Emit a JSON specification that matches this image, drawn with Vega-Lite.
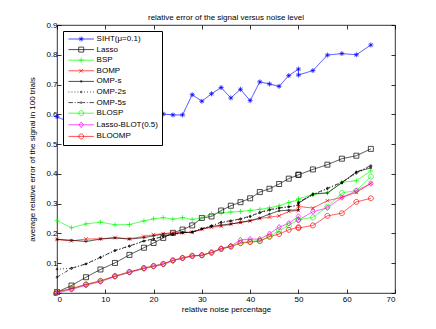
{
  "$schema": "https://vega.github.io/schema/vega-lite/v6.json",
  "width": 338,
  "height": 268,
  "autosize": "none",
  "padding": {"left": 57, "top": 25, "right": 41, "bottom": 36},
  "title": {"text": "relative error of the signal versus noise level", "fontSize": 8, "fontWeight": "normal", "font": "Liberation Sans", "color": "black", "offset": -1},
  "data": {"values": [
    {"i":0,"x":0,"SIHT":0.592,"Lasso":0.003,"BSP":0.243,"BOMP":0.180,"OMPs":0.180,"OMP2s":0.080,"OMP5s":0.053,"BLOSP":0.003,"LBLOT":0.000,"BLOOMP":0.004},
    {"i":1,"x":3,"SIHT":0.570,"Lasso":0.025,"BSP":0.219,"BOMP":0.175,"OMPs":0.177,"OMP2s":0.083,"OMP5s":0.083,"BLOSP":0.014,"LBLOT":0.012,"BLOOMP":0.015},
    {"i":2,"x":6,"SIHT":0.575,"Lasso":0.053,"BSP":0.232,"BOMP":0.181,"OMPs":0.173,"OMP2s":0.097,"OMP5s":0.098,"BLOSP":0.028,"LBLOT":0.026,"BLOOMP":0.029},
    {"i":3,"x":9,"SIHT":0.582,"Lasso":0.079,"BSP":0.238,"BOMP":0.182,"OMPs":0.181,"OMP2s":0.119,"OMP5s":0.120,"BLOSP":0.040,"LBLOT":0.038,"BLOOMP":0.041},
    {"i":4,"x":12,"SIHT":0.588,"Lasso":0.101,"BSP":0.229,"BOMP":0.186,"OMPs":0.185,"OMP2s":0.142,"OMP5s":0.143,"BLOSP":0.056,"LBLOT":0.055,"BLOOMP":0.057},
    {"i":5,"x":15,"SIHT":0.592,"Lasso":0.128,"BSP":0.230,"BOMP":0.182,"OMPs":0.181,"OMP2s":0.157,"OMP5s":0.158,"BLOSP":0.070,"LBLOT":0.069,"BLOOMP":0.071},
    {"i":6,"x":18,"SIHT":0.595,"Lasso":0.152,"BSP":0.242,"BOMP":0.190,"OMPs":0.186,"OMP2s":0.174,"OMP5s":0.175,"BLOSP":0.083,"LBLOT":0.082,"BLOOMP":0.084},
    {"i":7,"x":20,"SIHT":0.600,"Lasso":0.168,"BSP":0.249,"BOMP":0.196,"OMPs":0.192,"OMP2s":0.181,"OMP5s":0.182,"BLOSP":0.090,"LBLOT":0.089,"BLOOMP":0.091},
    {"i":8,"x":22,"SIHT":0.601,"Lasso":0.185,"BSP":0.253,"BOMP":0.199,"OMPs":0.198,"OMP2s":0.189,"OMP5s":0.190,"BLOSP":0.097,"LBLOT":0.096,"BLOOMP":0.098},
    {"i":9,"x":24,"SIHT":0.598,"Lasso":0.202,"BSP":0.248,"BOMP":0.203,"OMPs":0.198,"OMP2s":0.196,"OMP5s":0.197,"BLOSP":0.109,"LBLOT":0.108,"BLOOMP":0.110},
    {"i":10,"x":26,"SIHT":0.598,"Lasso":0.213,"BSP":0.253,"BOMP":0.202,"OMPs":0.203,"OMP2s":0.202,"OMP5s":0.203,"BLOSP":0.117,"LBLOT":0.117,"BLOOMP":0.118},
    {"i":11,"x":28,"SIHT":0.666,"Lasso":0.227,"BSP":0.247,"BOMP":0.204,"OMPs":0.204,"OMP2s":0.205,"OMP5s":0.205,"BLOSP":0.124,"LBLOT":0.124,"BLOOMP":0.125},
    {"i":12,"x":30,"SIHT":0.644,"Lasso":0.252,"BSP":0.253,"BOMP":0.214,"OMPs":0.215,"OMP2s":0.215,"OMP5s":0.216,"BLOSP":0.126,"LBLOT":0.127,"BLOOMP":0.127},
    {"i":13,"x":32,"SIHT":0.669,"Lasso":0.257,"BSP":0.266,"BOMP":0.221,"OMPs":0.223,"OMP2s":0.225,"OMP5s":0.226,"BLOSP":0.135,"LBLOT":0.136,"BLOOMP":0.136},
    {"i":14,"x":34,"SIHT":0.690,"Lasso":0.277,"BSP":0.268,"BOMP":0.224,"OMPs":0.228,"OMP2s":0.236,"OMP5s":0.238,"BLOSP":0.148,"LBLOT":0.150,"BLOOMP":0.148},
    {"i":15,"x":36,"SIHT":0.655,"Lasso":0.293,"BSP":0.272,"BOMP":0.231,"OMPs":0.232,"OMP2s":0.241,"OMP5s":0.243,"BLOSP":0.156,"LBLOT":0.158,"BLOOMP":0.156},
    {"i":16,"x":38,"SIHT":0.684,"Lasso":0.305,"BSP":0.274,"BOMP":0.237,"OMPs":0.237,"OMP2s":0.248,"OMP5s":0.249,"BLOSP":0.169,"LBLOT":0.178,"BLOOMP":0.167},
    {"i":17,"x":40,"SIHT":0.646,"Lasso":0.318,"BSP":0.277,"BOMP":0.242,"OMPs":0.243,"OMP2s":0.256,"OMP5s":0.258,"BLOSP":0.173,"LBLOT":0.181,"BLOOMP":0.171},
    {"i":18,"x":42,"SIHT":0.709,"Lasso":0.339,"BSP":0.281,"BOMP":0.250,"OMPs":0.252,"OMP2s":0.269,"OMP5s":0.271,"BLOSP":0.176,"LBLOT":0.181,"BLOOMP":0.174},
    {"i":19,"x":44,"SIHT":0.702,"Lasso":0.350,"BSP":0.286,"BOMP":0.255,"OMPs":0.265,"OMP2s":0.278,"OMP5s":0.280,"BLOSP":0.190,"LBLOT":0.199,"BLOOMP":0.189},
    {"i":20,"x":46,"SIHT":0.694,"Lasso":0.366,"BSP":0.293,"BOMP":0.259,"OMPs":0.276,"OMP2s":0.284,"OMP5s":0.286,"BLOSP":0.210,"LBLOT":0.221,"BLOOMP":0.198},
    {"i":21,"x":48,"SIHT":0.730,"Lasso":0.384,"BSP":0.304,"BOMP":0.274,"OMPs":0.278,"OMP2s":0.289,"OMP5s":0.290,"BLOSP":0.227,"LBLOT":0.234,"BLOOMP":0.212},
    {"i":22,"x":50,"SIHT":0.752,"Lasso":0.397,"BSP":0.313,"BOMP":0.277,"OMPs":0.279,"OMP2s":0.294,"OMP5s":0.295,"BLOSP":0.246,"LBLOT":0.257,"BLOOMP":0.221},
    {"i":23,"x":50,"SIHT":0.732,"Lasso":0.397,"BSP":0.316,"BOMP":0.291,"OMPs":0.301,"OMP2s":0.303,"OMP5s":0.305,"BLOSP":0.246,"LBLOT":0.245,"BLOOMP":0.218},
    {"i":24,"x":53,"SIHT":0.747,"Lasso":0.415,"BSP":0.331,"BOMP":0.285,"OMPs":0.333,"OMP2s":0.329,"OMP5s":0.331,"BLOSP":0.254,"LBLOT":0.273,"BLOOMP":0.227},
    {"i":25,"x":56,"SIHT":0.799,"Lasso":0.431,"BSP":0.336,"BOMP":0.310,"OMPs":0.336,"OMP2s":0.350,"OMP5s":0.352,"BLOSP":0.290,"LBLOT":0.286,"BLOOMP":0.259},
    {"i":26,"x":59,"SIHT":0.804,"Lasso":0.451,"BSP":0.372,"BOMP":0.321,"OMPs":0.370,"OMP2s":0.370,"OMP5s":0.372,"BLOSP":0.336,"LBLOT":0.321,"BLOOMP":0.268},
    {"i":27,"x":62,"SIHT":0.800,"Lasso":0.461,"BSP":0.377,"BOMP":0.338,"OMPs":0.407,"OMP2s":0.402,"OMP5s":0.405,"BLOSP":0.344,"LBLOT":0.343,"BLOOMP":0.306},
    {"i":28,"x":65,"SIHT":0.833,"Lasso":0.484,"BSP":0.410,"BOMP":0.368,"OMPs":0.420,"OMP2s":0.425,"OMP5s":0.428,"BLOSP":0.391,"LBLOT":0.368,"BLOOMP":0.318}
  ]},
  "transform": [{"fold": ["SIHT","Lasso","BSP","BOMP","OMPs","OMP2s","OMP5s","BLOSP","LBLOT","BLOOMP"], "as": ["s","v"]}],
  "layer": [
    {
      "mark": {"type": "line", "strokeWidth": 0.7},
      "encoding": {
        "x": {"field": "x", "type": "quantitative", "scale": {"domain": [0,70], "nice": false},
              "axis": {"values": [0,10,20,30,40,50,60,70], "title": "relative noise percentage", "labelPadding": 6, "titlePadding": 2}},
        "y": {"field": "v", "type": "quantitative", "scale": {"domain": [0,0.9], "nice": false},
              "axis": {"values": [0,0.1,0.2,0.3,0.4,0.5,0.6,0.7,0.8,0.9], "format": "~g", "title": "average relative error of the signal in 100 trials", "labelPadding": 4, "titlePadding": 9}},
        "stroke": {"field": "s", "type": "nominal", "legend": null,
                   "scale": {"domain": ["BLOOMP","LBLOT","BLOSP","OMP5s","OMP2s","OMPs","BOMP","BSP","Lasso","SIHT"],
                             "range": ["#ff0000","#ff00ff","#00ff00","#000000","#000000","#000000","#ff0000","#00ff00","#000000","#0000ff"]}},
        "strokeDash": {"field": "s", "type": "nominal", "legend": null,
                  "scale": {"domain": ["BLOOMP","LBLOT","BLOSP","OMP5s","OMP2s","OMPs","BOMP","BSP","Lasso","SIHT"],
                            "range": [[1,0],[1,0],[1,0],[4,2,1,2],[1,2],[1,0],[1,0],[1,0],[1,0],[1,0]]}},
        "order": {"field": "i", "type": "quantitative"}
      }
    },
    {
      "mark": {"type": "point", "filled": false, "size": 25, "strokeWidth": 0.7, "opacity": 1},
      "encoding": {
        "x": {"field": "x", "type": "quantitative", "axis": {"orient": "top", "values": [0,10,20,30,40,50,60,70], "labels": false, "title": null}},
        "y": {"field": "v", "type": "quantitative", "axis": {"orient": "right", "values": [0,0.1,0.2,0.3,0.4,0.5,0.6,0.7,0.8,0.9], "labels": false, "title": null}},
        "shape": {"field": "s", "type": "nominal", "legend": null,
                  "scale": {"domain": ["BLOOMP","LBLOT","BLOSP","OMP5s","OMP2s","OMPs","BOMP","BSP","Lasso","SIHT"],
                            "range": [
                              "M1,0A1,1,0,1,1,-1,0A1,1,0,1,1,1,0Z",
                              "M0,-1.1L0.9,0L0,1.1L-0.9,0Z",
                              "M1,0A1,1,0,1,1,-1,0A1,1,0,1,1,1,0Z",
                              "M0.35,0A0.35,0.35,0,1,1,-0.35,0A0.35,0.35,0,1,1,0.35,0Z",
                              "M0.35,0A0.35,0.35,0,1,1,-0.35,0A0.35,0.35,0,1,1,0.35,0Z",
                              "M0.35,0A0.35,0.35,0,1,1,-0.35,0A0.35,0.35,0,1,1,0.35,0Z",
                              "M-0.75,-0.75L0.75,0.75M-0.75,0.75L0.75,-0.75",
                              "M0,-1V1M-1,0H1",
                              "M-1,-1H1V1H-1Z",
                              "M0,-1V1M-1,0H1M-0.7,-0.7L0.7,0.7M-0.7,0.7L0.7,-0.7"]}},
        "color": {"field": "s", "type": "nominal",
                  "scale": {"domain": ["SIHT","Lasso","BSP","BOMP","OMPs","OMP2s","OMP5s","BLOSP","LBLOT","BLOOMP"],
                            "range": ["#0000ff","#000000","#00ff00","#ff0000","#000000","#000000","#000000","#00ff00","#ff00ff","#ff0000"]},
                  "legend": {"orient": "top-left", "offset": 6, "title": null, "padding": 4,
                             "strokeColor": "black", "fillColor": "white", "cornerRadius": 0,
                             "symbolSize": 25, "symbolStrokeWidth": 0.7, "symbolOffset": 10.2, "labelOffset": 11.4,
                             "rowPadding": 2.6, "labelFontSize": 8, "labelFont": "Liberation Sans", "labelColor": "black",
                             "labelExpr": "{'SIHT':'SIHT(μ=0.1)','Lasso':'Lasso','BSP':'BSP','BOMP':'BOMP','OMPs':'OMP-s','OMP2s':'OMP-2s','OMP5s':'OMP-5s','BLOSP':'BLOSP','LBLOT':'Lasso-BLOT(0.5)','BLOOMP':'BLOOMP'}[datum.label]",
                             "symbolType": {"expr": "{'SIHT':'M-5.1,0H5.1M0,-1V1M-1,0H1M-0.7,-0.7L0.7,0.7M-0.7,0.7L0.7,-0.7','Lasso':'M-5.1,0H5.1M-1,-1H1V1H-1Z','BSP':'M-5.1,0H5.1M0,-1V1M-1,0H1','BOMP':'M-5.1,0H5.1M-0.75,-0.75L0.75,0.75M-0.75,0.75L0.75,-0.75','OMPs':'M-5.1,0H5.1M0.35,0A0.35,0.35,0,1,1,-0.35,0A0.35,0.35,0,1,1,0.35,0Z','OMP2s':'M-5.1,0h0.4M-3.9,0h0.4M-2.7,0h0.4M-1.5,0h0.4M1.1,0h0.4M2.3,0h0.4M3.5,0h0.4M4.7,0h0.4M0.35,0A0.35,0.35,0,1,1,-0.35,0A0.35,0.35,0,1,1,0.35,0Z','OMP5s':'M-5.1,0H-3.3M-2.6,0h0.4M-1.6,0H-0.5M0.5,0H1.6M2.2,0h0.4M3.3,0H5.1M0.35,0A0.35,0.35,0,1,1,-0.35,0A0.35,0.35,0,1,1,0.35,0Z','BLOSP':'M-5.1,0H5.1M1,0A1,1,0,1,1,-1,0A1,1,0,1,1,1,0Z','LBLOT':'M-5.1,0H5.1M0,-1.1L0.9,0L0,1.1L-0.9,0Z','BLOOMP':'M-5.1,0H5.1M1,0A1,1,0,1,1,-1,0A1,1,0,1,1,1,0Z'}[datum.value]"}}}
      }
    }
  ],
  "resolve": {"axis": {"x": "independent", "y": "independent"}},
  "config": {
    "view": {"stroke": "black", "strokeWidth": 0.8},
    "axis": {"domain": false, "grid": false, "tickColor": "black", "tickSize": -4, "tickWidth": 0.8,
             "labelFont": "Liberation Sans", "labelFontSize": 8, "labelColor": "black",
             "titleFont": "Liberation Sans", "titleFontSize": 8, "titleFontWeight": "normal", "titleColor": "black"}
  }
}
